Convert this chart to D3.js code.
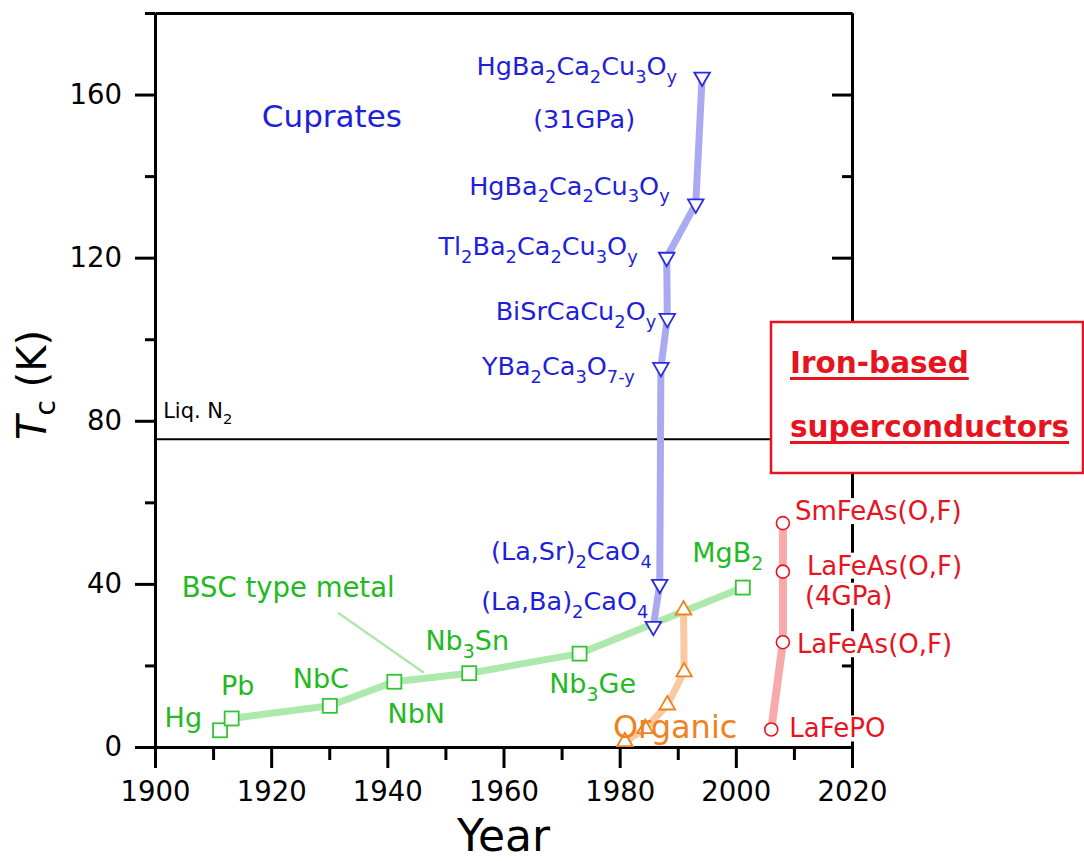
<!DOCTYPE html>
<html><head><meta charset="utf-8">
<script src="https://cdn.jsdelivr.net/npm/d3@7"></script>
<style>
body{margin:0;background:#fff}
svg{display:block}
text{font-family:"DejaVu Sans",sans-serif}
</style>
</head><body>
<svg id="c" width="1084" height="861"></svg>
<script>
// ---------- data ----------
const metalNames  = ["Hg","Pb","NbC","NbN","Nb{3}Sn","Nb{3}Ge","MgB{2}"];
const metalYears  = [1911.2,1913.2,1930.1,1941.2,1954.1,1973.1,2001.2];
const metalTc     = [4.1,7.0,10.1,16.0,18.1,22.9,39.1];

const cuprateNames = ["(La,Ba){2}CaO{4}","(La,Sr){2}CaO{4}","YBa{2}Ca{3}O{7-y}","BiSrCaCu{2}O{y}",
                      "Tl{2}Ba{2}Ca{2}Cu{3}O{y}","HgBa{2}Ca{2}Cu{3}O{y}","HgBa{2}Ca{2}Cu{3}O{y}"];
const cuprateYears = [1985.8,1986.9,1987.1,1988.2,1988.1,1993.1,1994.2];
const cuprateTc    = [29.6,39.9,93.1,105.1,120.1,133.2,164.3];
const cuprateNotes = ["","","","","","","(31GPa)"];

const organicYears = [1980.9,1984.4,1988.2,1991.1,1991.0];
const organicTc    = [1.3,4.5,10.3,18.4,33.6];

const ironNames = ["LaFePO","LaFeAs(O,F)","LaFeAs(O,F)","SmFeAs(O,F)"];
const ironYears = [2006.1,2008.1,2008.1,2008.1];
const ironTc    = [4.3,25.7,43.0,54.9];
const ironNotes = ["","","(4GPa)",""];

const xMajorTicks = [1900,1920,1940,1960,1980,2000,2020];
const xMinorTicks = [1910,1930,1950,1970,1990,2010];
const yMajorTicks = [0,40,80,120,160];
const yMinorTicks = [20,60,100,140,180];
const liqN2Tc = 75.5;

// ---------- layout (pixel offsets / styles) ----------
const metalLabelPos = [
  {dx:-18,dy:-3,a:"end"},{dx:6,dy:-23,a:"middle"},{dx:-9,dy:-18,a:"middle"},
  {dx:22,dy:41,a:"middle"},{dx:-2,dy:-23,a:"middle"},{dx:13,dy:39,a:"middle"},{dx:-15,dy:-26,a:"middle"}];
const cuprateLabelPos = [
  {dx:-5,dy:-16},{dx:-8,dy:-24},{dx:-26,dy:8},{dx:-11,dy:2},{dx:-29,dy:-2},{dx:-26,dy:-9},{dx:-25,dy:-2}];
const ironLabelPos = [{dx:18,dy:8},{dx:14,dy:11},{dx:24,dy:3},{dx:12,dy:-3}];

const C = {
  blue:"#1f1fd9", blueLine:"#aaaaf0", blueMark:"#2b2be0",
  green:"#22b922", greenLine:"#ade8ad", greenMark:"#33c433",
  orange:"#f0821e", orangeLine:"#f9c9a2",
  red:"#e6141e", redLine:"#f8aaaa"
};

const svg = d3.select("#c");
const x = d3.scaleLinear().domain([1900,2020]).range([155,852]);
const y = d3.scaleLinear().domain([0,180]).range([747,13]);

function rich(t, str, size){
  const parts = str.split(/\{([^}]*)\}/);
  const sh = size*0.3;
  let sub = false;
  parts.forEach((p,i)=>{
    if(i%2===0){
      if(!p) return;
      t.append("tspan").attr("font-size",size).attr("dy", sub ? -sh : 0).text(p);
      sub = false;
    } else {
      t.append("tspan").attr("font-size",size*0.7).attr("dy", sub ? 0 : sh).text(p);
      sub = true;
    }
  });
}

// ---------- axes ----------
function styleAxis(g){
  g.selectAll("path.domain").attr("stroke","#000").attr("stroke-width",3);
  g.selectAll(".tick line").attr("stroke","#000").attr("stroke-width",3);
  g.selectAll(".tick text").attr("fill","#000").attr("font-size",27.5)
   .attr("font-family","DejaVu Sans");
}
const ax = svg.append("g");
ax.append("g").attr("transform","translate(155,0)")
  .call(d3.axisLeft(y).tickValues(yMinorTicks).tickSize(10).tickSizeOuter(0).tickFormat(""))
  .call(styleAxis);
ax.append("g").attr("transform","translate(155,0)")
  .call(d3.axisLeft(y).tickValues(yMajorTicks).tickSize(20).tickPadding(13).tickSizeOuter(0))
  .call(styleAxis);
ax.append("g").attr("transform","translate(852,0)")
  .call(d3.axisLeft(y).tickValues(yMinorTicks).tickSize(10).tickSizeOuter(0).tickFormat(""))
  .call(styleAxis);
ax.append("g").attr("transform","translate(852,0)")
  .call(d3.axisLeft(y).tickValues(yMajorTicks).tickSize(20).tickSizeOuter(0).tickFormat(""))
  .call(styleAxis);
ax.append("g").attr("transform","translate(0,747)")
  .call(d3.axisBottom(x).tickValues(xMinorTicks).tickSize(13).tickSizeOuter(0).tickFormat(""))
  .call(styleAxis);
ax.append("g").attr("transform","translate(0,747)")
  .call(d3.axisBottom(x).tickValues(xMajorTicks).tickSize(21).tickPadding(13).tickSizeOuter(0).tickFormat(d3.format("d")))
  .call(styleAxis);
ax.append("g").attr("transform","translate(0,13)")
  .call(d3.axisTop(x).tickValues([]).tickSizeOuter(0))
  .call(styleAxis);

// axis titles
svg.append("text").attr("x",(x(1900)+x(2020))/2).attr("y",851).attr("text-anchor","middle")
  .attr("font-size",44).attr("fill","#000").text("Year");
const yt = svg.append("text").attr("transform","translate(46,385) rotate(-90)")
  .attr("text-anchor","middle").attr("fill","#000");
yt.append("tspan").attr("font-size",40).attr("font-style","italic").text("T");
yt.append("tspan").attr("font-size",28).attr("dy",9).text("c");
yt.append("tspan").attr("font-size",40).attr("dy",-9).text(" (K)");

// liquid N2 line
svg.append("line").attr("x1",x(1900)).attr("x2",x(2020)).attr("y1",y(liqN2Tc)).attr("y2",y(liqN2Tc))
  .attr("stroke","#000").attr("stroke-width",2);
const ln = svg.append("text").attr("x",x(1901.4)).attr("y",y(liqN2Tc)-21).attr("fill","#000");
rich(ln,"Liq. N{2}",21);

// Iron-based box (white, covers line & right axis)
const box = svg.append("g");
box.append("rect").attr("x",771).attr("y",322).attr("width",312).attr("height",151)
  .attr("fill","#fff").attr("stroke",C.red).attr("stroke-width",2.5);
["Iron-based","superconductors"].forEach((s,i)=>{
  const t = box.append("text").attr("x",790).attr("y",[373,437][i]).attr("fill",C.red)
    .attr("font-weight","bold").attr("font-size",29.5).text(s);
  const bb = t.node().getBBox();
  box.append("line").attr("x1",bb.x).attr("x2",bb.x+bb.width)
    .attr("y1",[373,437][i]+5.5).attr("y2",[373,437][i]+5.5).attr("stroke",C.red).attr("stroke-width",3);
});

// ---------- series lines ----------
const line = d3.line().x(d=>x(d[0])).y(d=>y(d[1]));
function series(years, tcs){ return years.map((v,i)=>[v,tcs[i]]); }
const metal = series(metalYears,metalTc), cup = series(cuprateYears,cuprateTc),
      org = series(organicYears,organicTc), iron = series(ironYears,ironTc);

svg.append("path").datum(metal).attr("d",line).attr("fill","none").attr("stroke",C.greenLine).attr("stroke-width",7).attr("stroke-linejoin","round");
svg.append("path").datum(org).attr("d",line).attr("fill","none").attr("stroke",C.orangeLine).attr("stroke-width",7).attr("stroke-linejoin","round");
svg.append("path").datum(cup).attr("d",line).attr("fill","none").attr("stroke",C.blueLine).attr("stroke-width",7).attr("stroke-linejoin","round");
svg.append("path").datum(iron).attr("d",line).attr("fill","none").attr("stroke",C.redLine).attr("stroke-width",8).attr("stroke-linejoin","round");

// BSC leader line
const leader = [[1931.5,32.9],[1946.3,18.2]];
svg.append("path").datum(leader).attr("d",line).attr("stroke",C.greenLine).attr("stroke-width",2.5).attr("fill","none");

// ---------- markers ----------
svg.append("g").selectAll("rect").data(metal).join("rect")
  .attr("x",d=>x(d[0])-7).attr("y",d=>y(d[1])-7).attr("width",14).attr("height",14)
  .attr("fill","#fff").attr("stroke",C.greenMark).attr("stroke-width",1.8);
const tri = d3.symbol().type(d3.symbolTriangle).size(105);
svg.append("g").selectAll("path").data(org).join("path")
  .attr("d",tri).attr("transform",d=>`translate(${x(d[0])},${y(d[1])})`)
  .attr("fill","#fff").attr("stroke",C.orange).attr("stroke-width",1.8);
svg.append("g").selectAll("path").data(cup).join("path")
  .attr("d",tri).attr("transform",d=>`translate(${x(d[0])},${y(d[1])}) rotate(180)`)
  .attr("fill","#fff").attr("stroke",C.blueMark).attr("stroke-width",1.8);
svg.append("g").selectAll("circle").data(iron).join("circle")
  .attr("cx",d=>x(d[0])).attr("cy",d=>y(d[1])).attr("r",6.5)
  .attr("fill","#fff").attr("stroke",C.red).attr("stroke-width",1.6);

// ---------- labels ----------
metal.forEach((d,i)=>{
  const p = metalLabelPos[i];
  const t = svg.append("text").attr("x",x(d[0])+p.dx).attr("y",y(d[1])+p.dy)
    .attr("text-anchor",p.a).attr("fill",C.green);
  rich(t, metalNames[i], 27);
});
cup.forEach((d,i)=>{
  const p = cuprateLabelPos[i];
  const t = svg.append("text").attr("x",x(d[0])+p.dx).attr("y",y(d[1])+p.dy)
    .attr("text-anchor","end").attr("fill",C.blue);
  rich(t, cuprateNames[i], 25.5);
  if(cuprateNotes[i]){
    svg.append("text").attr("x",x(d[0])-118).attr("y",y(d[1])+51).attr("text-anchor","middle")
      .attr("fill",C.blue).attr("font-size",25.5).text(cuprateNotes[i]);
  }
});
iron.forEach((d,i)=>{
  const p = ironLabelPos[i];
  const g = svg.append("g");
  const t = g.append("text").attr("x",x(d[0])+p.dx).attr("y",y(d[1])+p.dy).attr("fill",C.red);
  rich(t, ironNames[i], 26);
  let bb = t.node().getBBox();
  g.insert("rect","text").attr("x",bb.x).attr("y",bb.y+2).attr("width",bb.width).attr("height",bb.height-4).attr("fill","#fff");
  if(ironNotes[i]){
    const g2 = svg.append("g");
    const t2 = g2.append("text").attr("x",x(d[0])+p.dx-2).attr("y",y(d[1])+p.dy+30).attr("fill",C.red)
      .attr("font-size",26).text(ironNotes[i]);
    bb = t2.node().getBBox();
    g2.insert("rect","text").attr("x",bb.x).attr("y",bb.y+2).attr("width",bb.width).attr("height",bb.height-4).attr("fill","#fff");
  }
});

// group titles
svg.append("text").attr("x",x(1918.4)).attr("y",y(152.1)).attr("fill",C.blue).attr("font-size",31).text("Cuprates");
svg.append("text").attr("x",x(1904.6)).attr("y",y(36.8)).attr("fill",C.green).attr("font-size",27.5).text("BSC type metal");
svg.append("text").attr("x",x(organicYears[0])-12).attr("y",y(organicTc[0])-4).attr("fill",C.orange).attr("font-size",32).text("Organic");
</script>
</body></html>
